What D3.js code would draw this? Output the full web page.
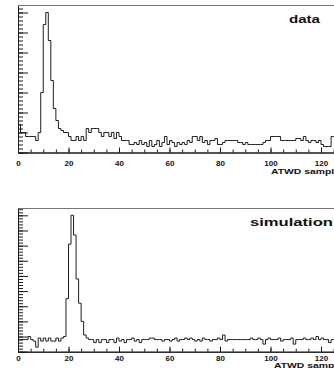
<!DOCTYPE html>
<html>
<head>
<meta charset="utf-8">
<script src="https://cdn.jsdelivr.net/npm/d3@7"></script>
<style>
  html, body { margin: 0; padding: 0; background: #fff; overflow: hidden; }
  svg { display: block; }
  text { font-family: "Liberation Sans", Arial, sans-serif; font-weight: bold; fill: #111; }
</style>
</head>
<body>
<svg id="chart" width="334" height="368"></svg>
<script>
// ============= Data =============

// counts per ATWD sample bin (bin i covers [i, i+1))
const dataCounts = [
  14, 10, 10, 8, 8, 8, 8, 6, 10, 30,
  64, 70, 56, 36, 22, 16, 12, 11, 10, 10,
  8, 6, 6, 8, 6, 8, 6, 12, 10, 12,
  12, 12, 10, 8, 10, 10, 8, 10, 7, 10,
  8, 6, 6, 6, 4, 4, 5, 4, 6, 4,
  5, 3, 6, 3, 4, 6, 3, 5, 8, 4,
  6, 5, 3, 5, 4, 5, 4, 6, 5, 8,
  8, 6, 8, 5, 6, 4, 6, 6, 7, 4,
  4, 5, 6, 6, 6, 6, 6, 5, 5, 4,
  5, 4, 4, 4, 4, 4, 4, 5, 6, 6,
  8, 8, 8, 8, 6, 6, 6, 6, 6, 6,
  7, 7, 6, 8, 6, 5, 6, 6, 5, 6,
  4, 3, 3, 3, 8, 8, 6, 6
];

const simCounts = [
  8, 8, 8, 8, 10, 8, 7, 3, 9, 7,
  9, 7, 9, 7, 7, 9, 7, 9, 10, 35,
  71, 90, 77, 48, 32, 20, 11, 9, 8, 8,
  6, 8, 6, 8, 8, 6, 8, 8, 6, 9,
  7, 8, 6, 8, 8, 9, 7, 8, 6, 8,
  8, 8, 9, 9, 8, 8, 8, 7, 8, 8,
  7, 8, 9, 7, 8, 8, 9, 8, 9, 8,
  7, 8, 7, 9, 8, 8, 7, 8, 8, 9,
  8, 11, 7, 8, 8, 8, 8, 8, 8, 8,
  8, 8, 9, 8, 8, 9, 8, 5, 8, 9,
  8, 8, 8, 9, 7, 8, 8, 8, 9, 5,
  8, 8, 8, 9, 8, 8, 9, 8, 10, 8,
  9, 8, 8, 6, 8, 8, 8, 9
];

const xTickValues = [0, 20, 40, 60, 80, 100, 120];
const xMinorStep = 5;
const yMajorStep = 10;
const yMinorStep = 2;
const xTitle = "ATWD sample";

// ============= Layout =============

const svg = d3.select("#chart");
const LEFT = 18;
const PX_PER_SAMPLE = 2.525;
const AXIS_COLOR = "#1a1a1a";
const FRAME_COLOR = "#777";
const LINE_COLOR = "#1e1e1e";

const xScale = d3.scaleLinear()
  .domain([0, 128])
  .range([LEFT, LEFT + 128 * PX_PER_SAMPLE]);

const panels = [
  { counts: dataCounts, label: "data", top: 5.5, bottom: 152.5, tickPad: 7.5,
    labelX: 289, labelY: 23, labelLen: 31, labelSize: 11,
    titleX: 271, titleY: 173.5 },
  { counts: simCounts, label: "simulation", top: 208.5, bottom: 351.7, tickPad: 4,
    labelX: 250, labelY: 226, labelLen: 83, labelSize: 11.5,
    titleX: 274, titleY: 367.5 },
];

const drawPanel = (p, idx) => {
  const yMax = d3.max(p.counts) * 1.05;
  const yScale = d3.scaleLinear().domain([0, yMax]).range([p.bottom, p.top]);
  const g = svg.append("g").attr("class", `panel-${idx}`);

  // clip to plot area
  const clipId = `clip-${idx}`;
  svg.append("clipPath").attr("id", clipId)
    .append("rect")
    .attr("x", LEFT).attr("y", p.top)
    .attr("width", 334 - LEFT).attr("height", p.bottom - p.top);

  // frame top
  g.append("line")
    .attr("x1", LEFT).attr("x2", 334)
    .attr("y1", yScale(yMax)).attr("y2", yScale(yMax))
    .attr("stroke", FRAME_COLOR).attr("stroke-width", 1);

  // histogram step line
  const pts = p.counts.map((c, i) => [i, c]);
  pts.push([p.counts.length, p.counts[p.counts.length - 1]]);
  const line = d3.line()
    .x((d) => xScale(d[0]))
    .y((d) => yScale(d[1]))
    .curve(d3.curveStepAfter);
  g.append("path")
    .attr("clip-path", `url(#${clipId})`)
    .attr("d", line(pts))
    .attr("fill", "none")
    .attr("stroke", LINE_COLOR)
    .attr("stroke-width", 1);

  // Y axis: minor + major ticks, no labels visible
  const yMinor = d3.range(0, yMax, yMinorStep);
  const yMajor = d3.range(0, yMax, yMajorStep);
  const yAxisMinor = g.append("g")
    .attr("transform", `translate(${LEFT},0)`)
    .call(d3.axisRight(yScale).tickValues(yMinor).tickSize(5).tickSizeOuter(0).tickFormat(""));
  const yAxisMajor = g.append("g")
    .attr("transform", `translate(${LEFT},0)`)
    .call(d3.axisRight(yScale).tickValues(yMajor).tickSize(10).tickSizeOuter(0).tickFormat(""));

  // X axis: minor + major ticks pointing up
  const xMinor = d3.range(0, 130, xMinorStep);
  const xAxisMinor = g.append("g")
    .attr("transform", `translate(0,${p.bottom})`)
    .call(d3.axisBottom(xScale).tickValues(xMinor).tickSize(-3).tickSizeOuter(0).tickFormat(""));
  const xAxisMajor = g.append("g")
    .attr("transform", `translate(0,${p.bottom})`)
    .call(d3.axisBottom(xScale).tickValues(xTickValues).tickSize(-5).tickSizeOuter(0)
      .tickPadding(p.tickPad).tickFormat(d3.format("d")));

  [yAxisMinor, yAxisMajor, xAxisMinor, xAxisMajor].forEach((axis) => {
    axis.selectAll("path, line").attr("stroke", AXIS_COLOR).attr("stroke-width", 1);
  });
  xAxisMajor.selectAll("text")
    .style("font-family", '"Liberation Sans", Arial, sans-serif')
    .style("font-weight", "bold")
    .style("font-size", "8px")
    .attr("fill", "#111");

  // axis title (runs off the right edge)
  g.append("text")
    .attr("x", p.titleX).attr("y", p.titleY)
    .attr("font-size", 7)
    .attr("textLength", 69)
    .attr("lengthAdjust", "spacingAndGlyphs")
    .text(xTitle);

  // panel label
  g.append("text")
    .attr("x", p.labelX).attr("y", p.labelY)
    .attr("font-size", p.labelSize)
    .attr("textLength", p.labelLen)
    .attr("lengthAdjust", "spacingAndGlyphs")
    .text(p.label);
};

panels.forEach(drawPanel);
</script>
</body>
</html>
